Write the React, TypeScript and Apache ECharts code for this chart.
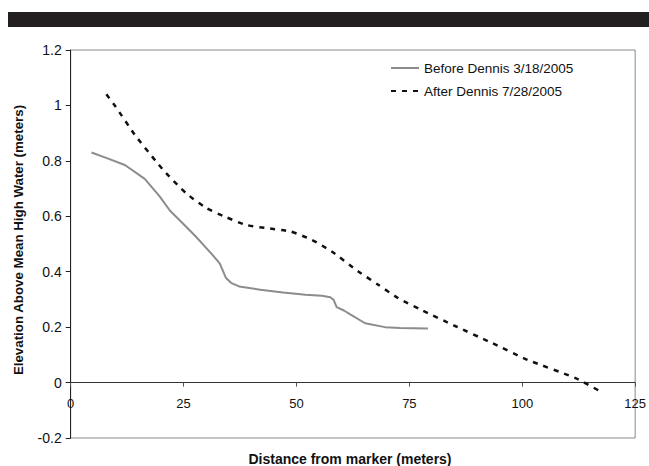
import React, { useEffect, useRef } from "react";
import * as echarts from "echarts";

const beforeX = [4.6, 8, 12, 16.4, 19.7, 22, 24.8, 27.7, 31.4, 33, 34.4, 35.5, 37.3, 42, 47, 52, 55.6, 57.5, 58.2, 58.9, 60.5, 62, 65.2, 69.6, 73, 76, 79.1];
const beforeY = [0.83, 0.81, 0.785, 0.735, 0.672, 0.62, 0.575, 0.527, 0.461, 0.43, 0.377, 0.36, 0.347, 0.335, 0.325, 0.317, 0.313, 0.308, 0.299, 0.272, 0.26, 0.245, 0.214, 0.2, 0.197, 0.196, 0.195];

const afterX = [7.9, 9.8, 14.2, 18.9, 21.1, 25.5, 30, 34.4, 38.8, 43, 48.7, 53.4, 57.8, 63.7, 68.1, 72.5, 77.7, 85, 93, 101.2, 111.8, 117.3];
const afterY = [1.04, 0.999, 0.894, 0.798, 0.756, 0.684, 0.63, 0.597, 0.569, 0.558, 0.545, 0.515, 0.473, 0.401, 0.353, 0.305, 0.262, 0.205, 0.145, 0.082, 0.016, -0.032];

const seriesNames = ["Before Dennis 3/18/2005", "After Dennis 7/28/2005"];
const xTitle = "Distance from marker (meters)";
const yTitle = "Elevation Above Mean High Water (meters)";

const FONT = "'Liberation Sans', Arial, sans-serif";

export default function App() {
  const ref = useRef<HTMLDivElement>(null);
  useEffect(() => {
    if (!ref.current) return;
    const chart = echarts.init(ref.current, null, { renderer: "svg" });
    chart.setOption({
      animation: false,
      backgroundColor: "#ffffff",
      textStyle: { fontFamily: FONT },
      grid: {
        left: 70.7,
        right: 11,
        top: 50,
        bottom: 28,
        show: true,
        borderColor: "#8a8a8a",
        borderWidth: 1,
      },
      legend: {
        orient: "vertical",
        left: 390,
        top: 61,
        padding: 0,
        itemWidth: 28,
        itemHeight: 14,
        itemGap: 9,
        itemStyle: { opacity: 0 },
        textStyle: { fontFamily: FONT, fontSize: 13.5, color: "#111" },
        data: seriesNames,
      },
      xAxis: {
        type: "value",
        min: 0,
        max: 125,
        interval: 25,
        position: "bottom",
        offset: -55.4,
        axisLine: { onZero: false, lineStyle: { color: "#333", width: 1 } },
        axisTick: { show: true, length: 4, lineStyle: { color: "#555" } },
        axisLabel: { margin: 14, fontSize: 13, color: "#111", fontFamily: FONT },
        splitLine: { show: false },
      },
      yAxis: {
        type: "value",
        min: -0.2,
        max: 1.2,
        interval: 0.2,
        axisLine: { show: true, onZero: false, lineStyle: { color: "#222", width: 1 } },
        axisTick: { show: true, length: 5, lineStyle: { color: "#222" } },
        axisLabel: {
          margin: 9,
          fontSize: 14,
          color: "#111",
          fontFamily: FONT,
          formatter: (v: number) => String(Math.round(v * 10) / 10),
        },
        splitLine: { show: false },
      },
      series: [
        {
          name: seriesNames[0],
          type: "line",
          data: beforeX.map((x, i) => [x, beforeY[i]]),
          symbol: "none",
          lineStyle: { color: "#8c8c8c", width: 2 },
          itemStyle: { color: "#8c8c8c" },
        },
        {
          name: seriesNames[1],
          type: "line",
          smooth: 0.2,
          data: afterX.map((x, i) => [x, afterY[i]]),
          symbol: "none",
          lineStyle: { color: "#111", width: 2.5, type: [5, 6] },
          itemStyle: { color: "#111" },
        },
      ],
      graphic: [
        {
          type: "rect",
          shape: { x: 8, y: 12, width: 660, height: 15 },
          style: { fill: "#231f20" },
          silent: true,
        },
        {
          type: "text",
          x: 350,
          y: 459,
          style: {
            text: xTitle,
            fontFamily: FONT,
            fontSize: 14,
            fontWeight: "bold",
            fill: "#111",
            align: "center",
            verticalAlign: "middle",
          },
        },
        {
          type: "text",
          x: 18,
          y: 240,
          rotation: Math.PI / 2,
          style: {
            text: yTitle,
            fontFamily: FONT,
            fontSize: 13.3,
            fontWeight: "bold",
            fill: "#111",
            align: "center",
            verticalAlign: "middle",
          },
        },
      ],
    });
    return () => chart.dispose();
  }, []);
  return (
    <div
      ref={ref}
      style={{ position: "absolute", left: 0, top: 0, width: 649, height: 466 }}
    />
  );
}
